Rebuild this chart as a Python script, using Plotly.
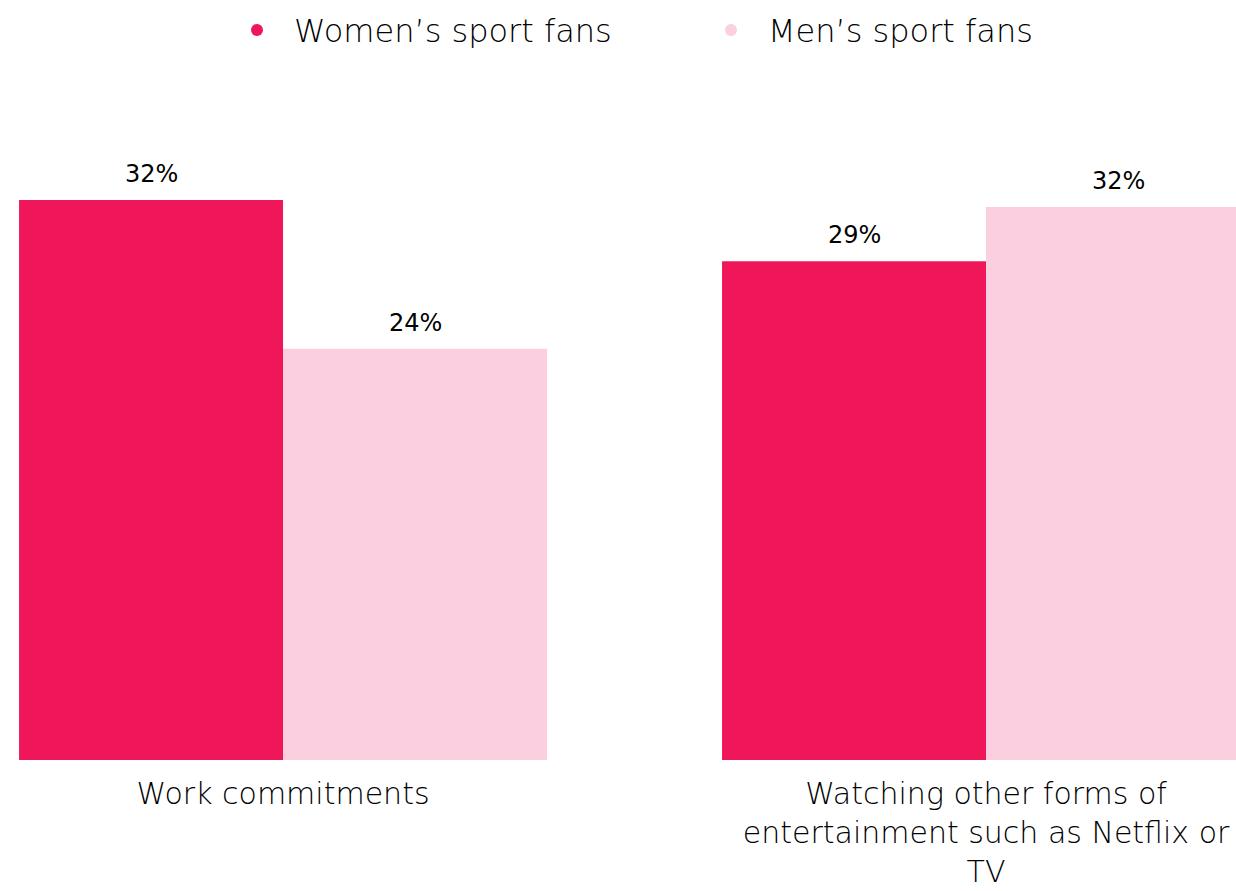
import plotly.graph_objects as go

categories = ["Work commitments",
              "Watching other forms of<br>entertainment such as Netflix or<br>TV"]
series_names = ["Women\u2019s sport fans", "Men\u2019s sport fans"]
women_values = [32.0, 28.5]
men_values = [23.5, 31.6]
women_labels = ["32%", "29%"]
men_labels = ["24%", "32%"]

colors = ["#EF175A", "#FBCFDF"]
font_family = "DejaVu Sans"
text_color = "#000000"
bar_half_px = 132

fig = go.Figure()
for name, vals, col in zip(series_names, [women_values, men_values], colors):
    fig.add_trace(go.Bar(
        x=categories, y=vals, name=name, marker=dict(color=col, line=dict(width=0)),
        showlegend=False, hoverinfo="skip",
    ))
    fig.add_trace(go.Scatter(
        x=[None], y=[None], mode="markers", name=name,
        marker=dict(color=col, size=40, symbol="circle"),
        showlegend=True,
    ))

for sign, vals, labels in [(-1, women_values, women_labels), (1, men_values, men_labels)]:
    for cat, v, lab in zip(categories, vals, labels):
        fig.add_annotation(x=cat, y=v, xref="x", yref="y", text=lab, showarrow=False,
                           xanchor="center", yanchor="bottom", xshift=sign * bar_half_px,
                           yshift=10, font=dict(size=24, color=text_color, family=font_family,
                                                weight="normal"))

fig.update_layout(
    width=1236, height=891,
    margin=dict(l=0, r=0, t=130, b=131, autoexpand=False),
    paper_bgcolor="white", plot_bgcolor="white",
    barmode="group", bargap=0.249, bargroupgap=0,
    font=dict(family=font_family, color=text_color, weight=300),
    legend=dict(orientation="h", x=220 / 1236, xanchor="left", y=0.997, yref="container",
                yanchor="top", font=dict(size=32, color=text_color, weight=300),
                itemsizing="constant", traceorder="normal", itemwidth=64, entrywidth=395),
    xaxis=dict(range=[-0.4026, 1.3556], showgrid=False, showline=False, zeroline=False,
               automargin=False,
               tickfont=dict(size=30, color=text_color, weight=300), ticklabelstandoff=13),
    yaxis=dict(range=[0, 36], visible=False, showgrid=False, zeroline=False, automargin=False),
)

fig.write_html("out.html")
